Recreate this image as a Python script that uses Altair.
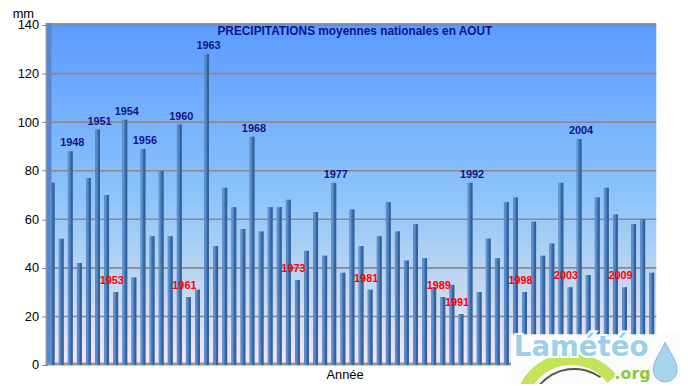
import altair as alt
import pandas as pd

# ---------------- data ----------------
years = list(range(1946, 2013))
values = [75, 52, 88, 42, 77, 97, 70, 30, 101, 36, 89, 53, 80, 53, 99, 28, 31, 128, 49, 73, 65,
          56, 94, 55, 65, 65, 68, 35, 47, 63, 45, 75, 38, 64, 49, 31, 53, 67, 55, 43, 58, 44, 32, 28, 33, 21,
          75, 30, 52, 44, 67, 69, 30, 59, 45, 50, 75, 32, 93, 37, 69, 73, 62, 32, 58, 60, 38]
high_years = [1948, 1951, 1954, 1956, 1960, 1963, 1968, 1977, 1992, 2004]
low_years = [1953, 1961, 1973, 1981, 1989, 1991, 1998, 2003, 2009]
y_ticks = [0, 20, 40, 60, 80, 100, 120, 140]

title_text = "PRECIPITATIONS moyennes nationales en AOUT"
x_title = "Année"
y_title = "mm"

W, H = 616, 344
FONT = "Liberation Sans"

df = pd.DataFrame({"year": [str(y) for y in years], "value": values})
df["kind"] = ["high" if y in high_years else ("low" if y in low_years else "") for y in years]

yscale = alt.Scale(domain=[0, 140], nice=False, zero=True)
xscale = alt.Scale(paddingInner=0, paddingOuter=0)
yaxis = alt.Axis(values=y_ticks, title=y_title, titleAngle=0, titleX=-25, titleY=-8,
                 titleAlign="center", titleBaseline="alphabetic", titleFontWeight="normal",
                 titleFontSize=13, titleFont=FONT, titleColor="black",
                 labelFont=FONT, labelFontSize=13, labelColor="black", labelPadding=3,
                 tickColor="#808080", tickSize=6, domain=False, grid=False)
one = alt.Data(values=[{}])

# background gradient
bg = alt.Chart(one).mark_rect(
    fill=alt.Gradient(gradient="linear", x1=0, x2=0, y1=0, y2=1, stops=[
        alt.GradientStop(color="#5b9bff", offset=0),
        alt.GradientStop(color="#8cc3fa", offset=0.5),
        alt.GradientStop(color="#c5d8f1", offset=0.78),
        alt.GradientStop(color="#fae6f6", offset=1),
    ])
).encode(x=alt.value(0), x2=alt.value(W), y=alt.value(-2), y2=alt.value(H))

# left wall
wall = alt.Chart(one).mark_rect(
    fill=alt.Gradient(gradient="linear", x1=0, x2=1, y1=0, y2=0, stops=[
        alt.GradientStop(color="#8f99ab", offset=0),
        alt.GradientStop(color="#5a86d0", offset=0.4),
        alt.GradientStop(color="#5a86d0", offset=1),
    ])
).encode(x=alt.value(-2), x2=alt.value(4), y=alt.value(-2), y2=alt.value(H))

grid_df = pd.DataFrame({"value": y_ticks[1:]})
grid = alt.Chart(grid_df).mark_rule(color="#8a8a8a", strokeWidth=1.6).encode(
    y=alt.Y("value:Q", scale=yscale, axis=yaxis), x=alt.value(3), x2=alt.value(W)
)

floor = alt.Chart(one).mark_rule(color="#9a9a9a", strokeWidth=3).encode(
    x=alt.value(0), x2=alt.value(W), y=alt.value(H - 1)
)

base = alt.Chart(df)
X = alt.X("year:O", scale=xscale, axis=None)
Y = alt.Y("value:Q", scale=yscale, axis=yaxis)
bars = base.mark_bar(size=5, color="#4b7fbe").encode(x=X, y=Y)
dark = base.mark_bar(size=2, xOffset=1.5, color="#33619c").encode(x=X, y=Y)
light = base.mark_bar(size=1, xOffset=-1.5, color="#6a9ad6").encode(x=X, y=Y)

hi_lab = base.transform_filter(alt.datum.kind == "high").mark_text(
    font=FONT, fontSize=11, fontWeight="bold", color="#10148c", baseline="bottom", dy=-3, dx=2
).encode(x=X, y=Y, text="year:N")
lo_lab = base.transform_filter(alt.datum.kind == "low").mark_text(
    font=FONT, fontSize=11, fontWeight="bold", color="#ff0000", baseline="bottom", dy=-6, dx=-4
).encode(x=X, y=Y, text="year:N")

title = alt.Chart(one).mark_text(
    font=FONT, fontSize=12, fontWeight="bold", color="#10148c", align="center", baseline="middle"
).encode(x=alt.value(311), y=alt.value(6), text=alt.value(title_text))

xt = alt.Chart(one).mark_text(
    font=FONT, fontSize=13, color="black", align="center", baseline="middle"
).encode(x=alt.value(301), y=alt.value(354), text=alt.value(x_title))

# logo (approximation)
logo_box = alt.Chart(one).mark_rect(fill="#fbfbfb").encode(
    x=alt.value(469), x2=alt.value(645), y=alt.value(313), y2=alt.value(370)
)
swoosh = alt.Chart(one).mark_arc(color="#c4e25a").encode(
    x=alt.value(530), y=alt.value(390), radius=alt.value(58), radius2=alt.value(46),
    theta=alt.value(5.0), theta2=alt.value(7.2)
)
swoosh_line = alt.Chart(one).mark_arc(color="#555555").encode(
    x=alt.value(533), y=alt.value(394), radius=alt.value(47), radius2=alt.value(45),
    theta=alt.value(5.4), theta2=alt.value(6.9)
)
logo_halo = alt.Chart(one).mark_text(
    font="DejaVu Sans", fontSize=28, fontWeight="bold", color="white", stroke="white",
    strokeWidth=4, align="center", baseline="middle"
).encode(x=alt.value(540), y=alt.value(327), text=alt.value("Lamétéo"))
logo_txt = alt.Chart(one).mark_text(
    font="DejaVu Sans", fontSize=28, fontWeight="bold", color="#9ccfe8",
    align="center", baseline="middle"
).encode(x=alt.value(540), y=alt.value(327), text=alt.value("Lamétéo"))
logo_org_halo = alt.Chart(one).mark_text(
    font="DejaVu Sans", fontSize=16, fontWeight="bold", color="white", stroke="white",
    strokeWidth=3, align="center", baseline="middle"
).encode(x=alt.value(592), y=alt.value(353), text=alt.value(".org"))
logo_org = alt.Chart(one).mark_text(
    font="DejaVu Sans", fontSize=16, fontWeight="bold", color="#8cc63f",
    align="center", baseline="middle"
).encode(x=alt.value(592), y=alt.value(353), text=alt.value(".org"))
drop = alt.Chart(one).mark_point(
    shape="M0,-1 C0.25,-0.45 0.6,-0.05 0.6,0.4 A0.6,0.6 0 1 1 -0.6,0.4 C-0.6,-0.05 -0.25,-0.45 0,-1 Z",
    filled=True, fill="#a6d5ec", stroke="#7fb8d8", strokeWidth=1, opacity=1, size=1600
).encode(x=alt.value(625), y=alt.value(341))

chart = alt.layer(
    bg, wall, grid, floor, bars, dark, light, hi_lab, lo_lab, title, xt,
    logo_box, swoosh, swoosh_line, logo_halo, logo_txt, logo_org_halo, logo_org, drop
).properties(
    width=W, height=H,
    autosize=alt.AutoSizeParams(type="none"),
    padding={"left": 40, "top": 15, "right": 24, "bottom": 17},
    background="white",
).configure_view(stroke=None)

chart.save("out.html", embed_options={"renderer": "svg", "actions": False})
